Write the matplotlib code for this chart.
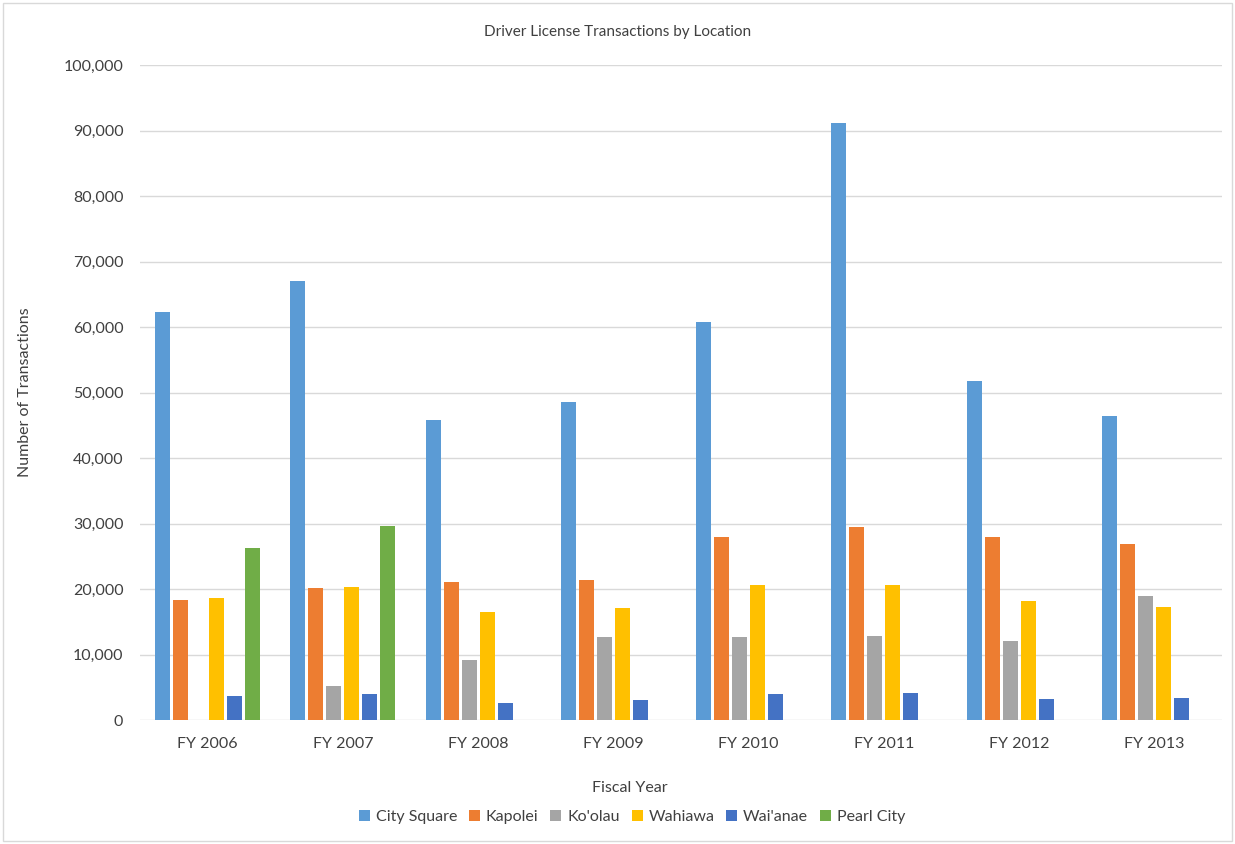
import matplotlib.pyplot as plt
import numpy as np
from matplotlib.patches import Rectangle

years = ['FY 2006', 'FY 2007', 'FY 2008', 'FY 2009', 'FY 2010', 'FY 2011', 'FY 2012', 'FY 2013']
city_square = [62300, 67000, 45800, 48500, 60800, 91100, 51800, 46400]
kapolei = [18300, 20100, 21000, 21300, 28000, 29500, 27900, 26800]
koolau = [0, 5200, 9100, 12700, 12700, 12800, 12000, 18900]
wahiawa = [18700, 20300, 16500, 17100, 20600, 20600, 18200, 17300]
waianae = [3600, 3900, 2600, 3050, 4000, 4100, 3200, 3400]
pearl_city = [26200, 29600, 0, 0, 0, 0, 0, 0]

series = [
    ('City Square', city_square, '#5B9BD5'),
    ('Kapolei', kapolei, '#ED7D31'),
    ("Ko'olau", koolau, '#A5A5A5'),
    ('Wahiawa', wahiawa, '#FFC000'),
    ("Wai'anae", waianae, '#4472C4'),
    ('Pearl City', pearl_city, '#70AD47'),
]

plt.rcParams['font.family'] = ['Lato', 'DejaVu Sans']

fig = plt.figure(figsize=(12.35, 8.44), dpi=100)
ax = fig.add_axes([140 / 1235, 124 / 844, 1082 / 1235, 655 / 844])

x = np.arange(len(years))
step = 0.133
width = 0.111
for i, (name, vals, col) in enumerate(series):
    ax.bar(x + (i - 2.5) * step, vals, width, color=col, label=name, zorder=3)

ax.set_xlim(-0.5, len(years) - 0.5)
ax.set_ylim(0, 100000)
ax.set_yticks(np.arange(0, 100001, 10000))
ax.yaxis.set_major_formatter(plt.FuncFormatter(lambda v, p: f'{int(v):,}'))
ax.set_xticks(x)
ax.set_xticklabels(years)
ax.grid(axis='y', color='#D9D9D9', linewidth=1, zorder=0)
for s in ax.spines.values():
    s.set_visible(False)
ax.tick_params(length=0, labelsize=11.5, labelcolor='#404040')
ax.tick_params(axis='y', pad=12)
ax.tick_params(axis='x', pad=12)

fig.text(0.5, 1 - 32 / 844, 'Driver License Transactions by Location', ha='center', va='center',
         fontsize=11, color='#404040')
fig.text(630 / 1235, 1 - 788 / 844, 'Fiscal Year', ha='center', va='center', fontsize=11.5, color='#404040')
fig.text(25 / 1235, 1 - 392 / 844, 'Number of Transactions', ha='center', va='center', rotation=90,
         fontsize=11.5, color='#404040')

fig.legend(loc='center', bbox_to_anchor=(632 / 1235, 1 - 817 / 844), ncol=6, frameon=False,
           fontsize=11.5, handlelength=0.7, handleheight=0.7, handletextpad=0.35, columnspacing=0.75,
           labelcolor='#404040')

fig.patches.append(Rectangle((3 / 1235, 3 / 844), 1 - 6 / 1235, 1 - 6 / 844, transform=fig.transFigure,
                             fill=False, edgecolor='#D9D9D9', linewidth=1))

fig.savefig('out.png', dpi=100)
